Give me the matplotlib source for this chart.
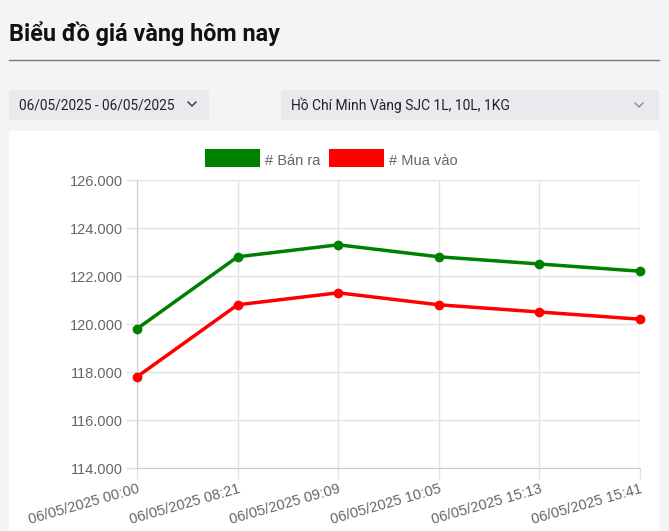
import matplotlib.pyplot as plt
from matplotlib.patches import Rectangle
from matplotlib.lines import Line2D
from matplotlib.ticker import FuncFormatter
from matplotlib.transforms import ScaledTranslation

# du lieu doc tu bieu do (don vi: nghin dong / luong)
thoi_gian = ['06/05/2025 00:00', '06/05/2025 08:21', '06/05/2025 09:09',
             '06/05/2025 10:05', '06/05/2025 15:13', '06/05/2025 15:41']
ban_ra = [119800, 122800, 123300, 122800, 122500, 122200]
mua_vao = [117800, 120800, 121300, 120800, 120500, 120200]
ten_series = ['# Bán ra', '# Mua vào']

W, H = 669, 531
fig = plt.figure(figsize=(W / 100, H / 100), dpi=100)
fig.patch.set_facecolor('#f4f4f4')


def px(x, y):
    # pixel (goc tren trai) -> toa do figure
    return x / W, 1 - y / H


def hop(x0, y0, x1, y1, mau):
    fx, fy = px(x0, y1)
    fig.add_artist(Rectangle((fx, fy), (x1 - x0) / W, (y1 - y0) / H,
                             transform=fig.transFigure, color=mau, lw=0, zorder=-5))


# tieu de + duong ke
fig.text(*px(9, 41), 'Biểu đồ giá vàng hôm nay', family='Roboto',
         weight='bold', fontsize=16.8, va='baseline', ha='left', color='#111111')
fig.add_artist(Line2D([9 / W, 659 / W], [1 - 59.5 / H] * 2, color='#777777', lw=1,
                      transform=fig.transFigure))

# hai o chon
hop(9, 90, 209, 120, '#e9eaed')
hop(281, 90, 659, 120, '#e9eaed')
fig.text(*px(19, 105), '06/05/2025 - 06/05/2025', family='Roboto', fontsize=9.9,
         va='center', color='#222222')
fig.text(*px(291, 105), 'Hồ Chí Minh Vàng SJC 1L, 10L, 1KG', family='Roboto', fontsize=10,
         va='center', color='#222222')


def mui_ten(x, y, mau):
    xs = [x - 4, x, x + 4]
    ys = [y - 2, y + 2, y - 2]
    fig.add_artist(Line2D([v / W for v in xs], [1 - v / H for v in ys], color=mau, lw=1,
                          transform=fig.transFigure))


mui_ten(192, 104, '#333333')
mui_ten(639, 105, '#888888')

# khung trang cua bieu do
hop(9, 131, 659, 531, 'white')

# vung ve
x0, x1, y0, y1 = 137, 640, 180, 468
ax = fig.add_axes([x0 / W, 1 - y1 / H, (x1 - x0) / W, (y1 - y0) / H])
ax.set_facecolor('white')
vi_tri = list(range(len(thoi_gian)))
ax.plot(vi_tri, ban_ra, color='#008000', lw=2.5, marker='o', ms=6, label=ten_series[0],
        zorder=3, clip_on=False)
ax.plot(vi_tri, mua_vao, color='#ff0000', lw=2.5, marker='o', ms=6, label=ten_series[1],
        zorder=3, clip_on=False)

ax.set_xlim(0, len(thoi_gian) - 1)
ax.set_ylim(114000, 126000)
ax.set_yticks(range(114000, 126001, 2000))
ax.yaxis.set_major_formatter(FuncFormatter(lambda v, p: f'{v:,.0f}'.replace(',', '.')))
ax.set_xticks(vi_tri)
ax.set_xticklabels(thoi_gian, rotation=16, ha='right', va='top', rotation_mode='anchor')
dich = ScaledTranslation(4 / 100, 0, fig.dpi_scale_trans)
for lab in ax.get_xticklabels():
    lab.set_transform(lab.get_transform() + dich)

ax.grid(True, color='#e2e2e2', lw=1)
ax.set_axisbelow(True)
for s in ['top', 'right']:
    ax.spines[s].set_visible(False)
for s in ['left', 'bottom']:
    ax.spines[s].set_color('#cccccc')
ax.tick_params(length=8, width=1, color='#e2e2e2', labelcolor='#666666', labelsize=10.5)
ax.tick_params(axis='y', pad=2)
ax.tick_params(axis='x', pad=2)
for lab in ax.get_xticklabels() + ax.get_yticklabels():
    lab.set_family('Liberation Sans')

leg = fig.legend(loc='center', bbox_to_anchor=px(331, 160), ncol=2, frameon=False,
                 handlelength=3.8, handleheight=1.3, handletextpad=0.3, columnspacing=0.6,
                 prop={'family': 'Liberation Sans', 'size': 10.5})
for h in leg.legend_handles:
    h.set_marker('')
    h.set_linewidth(13)
    h.set_solid_capstyle('butt')
for t in leg.get_texts():
    t.set_color('#666666')

fig.savefig('out.png', dpi=100, facecolor=fig.get_facecolor())
